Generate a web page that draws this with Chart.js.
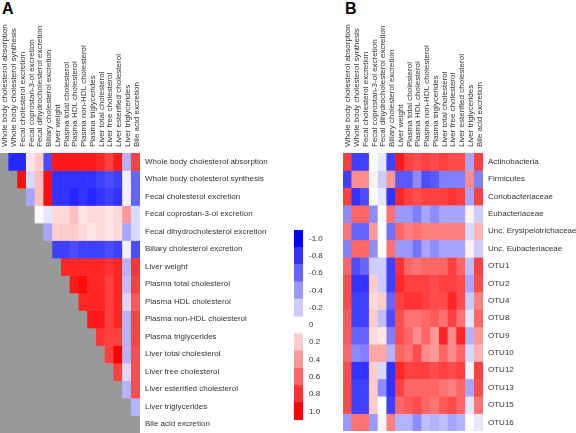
<!DOCTYPE html>
<html>
<head>
<meta charset="utf-8">
<script src="https://cdn.jsdelivr.net/npm/chart.js@4/dist/chart.umd.min.js"></script>
<style>
  body { margin: 0; background: #fff; overflow: hidden; }
  #wrap { position: relative; width: 576px; height: 433px; font-family: "Liberation Sans", Arial, sans-serif; }
  canvas { position: absolute; }
  .tag { position: absolute; font-weight: bold; font-size: 16px; color: #000; line-height: 16px; }
</style>
</head>
<body>
<div id="wrap">
  <div class="tag" style="left:2px;top:1px">A</div>
  <div class="tag" style="left:345px;top:1px">B</div>
  <canvas id="chartA" width="340" height="433" style="left:0;top:0"></canvas>
  <canvas id="chartB" width="233" height="431" style="left:343px;top:0"></canvas>
  <canvas id="legend" width="50" height="190" style="left:294px;top:230px"></canvas>
</div>
<script>
// host traits (columns of both panels, rows of panel A)
const traits = [
  "Whole body cholesterol absorption",
  "Whole body cholesterol synthesis",
  "Fecal cholesterol excretion",
  "Fecal coprostan-3-ol excretion",
  "Fecal dihydrocholesterol excretion",
  "Biliary cholesterol excretion",
  "Liver weight",
  "Plasma total cholesterol",
  "Plasma HDL cholesterol",
  "Plasma non-HDL cholesterol",
  "Plasma triglycerides",
  "Liver total cholesterol",
  "Liver free cholesterol",
  "Liver esterified cholesterol",
  "Liver triglycerides",
  "Bile acid excretion"
]

const taxa = [
  "Actinobacteria", "Firmicutes", "Coriobacteriaceae", "Eubacteriaceae",
  "Unc. Erysipelotrichaceae", "Unc. Eubacteriaceae",
  "OTU1", "OTU2", "OTU4", "OTU8", "OTU9", "OTU10", "OTU12", "OTU13", "OTU15", "OTU16"
]

const _ = null
// panel A: trait vs trait (upper triangle only)
const traitCorr = [
  [_, -0.85, -0.85, 0.1, 0.2, -0.7, 0.9, 0.9, 0.9, 0.9, 0.9, 0.85, 0.75, 0.9, -0.3, 0.75],
  [_, _, 0.95, -0.15, 0.25, 0.95, -0.8, -0.8, -0.8, -0.8, -0.8, -0.75, -0.7, -0.75, -0.05, -0.6],
  [_, _, _, -0.35, 0.25, 0.95, -0.8, -0.8, -0.85, -0.8, -0.85, -0.8, -0.75, -0.8, -0.05, -0.6],
  [_, _, _, _, 0.02, -0.1, 0.15, 0.15, 0.25, 0.1, 0.15, 0.15, 0.1, 0.15, 0.4, -0.15],
  [_, _, _, _, _, -0.35, 0.2, 0.2, 0.2, 0.15, 0.1, 0.15, 0.1, 0.15, -0.35, -0.15],
  [_, _, _, _, _, _, -0.75, -0.75, -0.7, -0.75, -0.75, -0.75, -0.7, -0.75, -0.05, -0.7],
  [_, _, _, _, _, _, _, 0.85, 0.85, 0.85, 0.85, 0.85, 0.8, 0.85, -0.3, 0.8],
  [_, _, _, _, _, _, _, _, 0.9, 0.95, 0.85, 0.85, 0.75, 0.85, -0.25, 0.75],
  [_, _, _, _, _, _, _, _, _, 0.85, 0.85, 0.85, 0.75, 0.85, -0.15, 0.65],
  [_, _, _, _, _, _, _, _, _, _, 0.9, 0.9, 0.75, 0.85, -0.3, 0.75],
  [_, _, _, _, _, _, _, _, _, _, _, 0.8, 0.75, 0.75, -0.3, 0.75],
  [_, _, _, _, _, _, _, _, _, _, _, _, 0.75, 1.0, -0.3, 0.7],
  [_, _, _, _, _, _, _, _, _, _, _, _, _, 0.75, -0.15, 0.7],
  [_, _, _, _, _, _, _, _, _, _, _, _, _, _, -0.3, 0.7],
  [_, _, _, _, _, _, _, _, _, _, _, _, _, _, _, -0.3],
  [_, _, _, _, _, _, _, _, _, _, _, _, _, _, _, _]
]

// panel B: taxon vs trait
const taxaCorr = [
  [0.75, -0.75, -0.75, 0.0, -0.1, -0.75, 0.9, 0.75, 0.7, 0.75, 0.7, 0.75, 0.7, 0.7, -0.35, 0.75],
  [-0.75, 0.45, 0.45, 0.05, -0.2, 0.4, -0.65, -0.65, -0.45, -0.7, -0.65, -0.5, -0.5, -0.5, 0.45, -0.5],
  [0.75, -0.8, -0.7, 0.0, -0.1, -0.8, 0.85, 0.75, 0.7, 0.75, 0.75, 0.75, 0.8, 0.75, -0.35, 0.75],
  [-0.45, 0.6, 0.6, -0.45, 0.0, 0.55, -0.4, -0.4, -0.5, -0.35, -0.45, -0.35, -0.35, -0.35, 0.05, -0.2],
  [0.55, -0.6, -0.6, 0.4, 0.0, -0.55, 0.6, 0.5, 0.55, 0.5, 0.5, 0.5, 0.5, 0.5, -0.15, 0.3],
  [-0.5, 0.6, 0.6, -0.45, 0.0, 0.55, -0.4, -0.4, -0.55, -0.35, -0.45, -0.35, -0.35, -0.35, 0.05, -0.2],
  [0.6, -0.7, -0.6, -0.2, -0.2, -0.75, 0.8, 0.6, 0.55, 0.6, 0.6, 0.6, 0.75, 0.6, -0.25, 0.75],
  [0.7, -0.8, -0.8, 0.2, -0.2, -0.75, 0.85, 0.75, 0.75, 0.75, 0.7, 0.75, 0.75, 0.7, -0.35, 0.7],
  [0.7, -0.75, -0.75, 0.15, 0.2, -0.6, 0.75, 0.8, 0.8, 0.75, 0.7, 0.7, 0.85, 0.7, -0.2, 0.5],
  [0.65, -0.75, -0.75, 0.2, -0.25, -0.7, 0.7, 0.55, 0.55, 0.6, 0.65, 0.55, 0.75, 0.55, -0.1, 0.6],
  [0.65, -0.6, -0.6, 0.15, 0.1, -0.5, 0.7, 0.6, 0.45, 0.6, 0.4, 0.85, 0.45, 0.85, -0.3, 0.4],
  [0.6, -0.45, -0.5, 0.35, 0.35, -0.3, 0.6, 0.55, 0.7, 0.45, 0.4, 0.6, 0.45, 0.6, -0.15, 0.3],
  [0.7, -0.8, -0.8, 0.2, -0.15, -0.8, 0.85, 0.75, 0.75, 0.75, 0.7, 0.75, 0.7, 0.75, -0.05, 0.75],
  [0.7, -0.75, -0.75, 0.2, -0.45, -0.8, 0.75, 0.6, 0.6, 0.6, 0.6, 0.55, 0.5, 0.6, -0.35, 0.7],
  [0.7, -0.75, -0.75, 0.2, 0.0, -0.75, 0.6, 0.65, 0.7, 0.6, 0.55, 0.65, 0.7, 0.6, -0.1, 0.55],
  [-0.4, 0.55, 0.55, -0.4, 0.05, 0.5, -0.3, -0.3, -0.45, -0.25, -0.3, -0.25, -0.35, -0.3, 0.02, -0.1]
]

// colour key
const keySteps = [-1.0, -0.8, -0.6, -0.4, -0.2, 0, 0.2, 0.4, 0.6, 0.8, 1.0]
const keyLabels = ["-1.0", "-0.8", "-0.6", "-0.4", "-0.2", "0", "0.2", "0.4", "0.6", "0.8", "1.0"]

const textColor = "#333333"
const font = { family: "'Liberation Sans', Arial, sans-serif", size: 8 }

function corrColor(v) {
  if (v === null) return "#999999"
  const t = Math.min(Math.abs(v), 1)
  const c = Math.round(255 * (1 - t))
  return v >= 0 ? `rgb(255,${c},${c})` : `rgb(${c},${c},255)`
}

function heatmap(canvas, rows, values, axisWidth) {
  const datasets = values.map((row, i) => ({
    data: traits.map(() => [i, i + 1]),
    backgroundColor: row.map(corrColor),
    borderWidth: 0,
    barPercentage: 1,
    categoryPercentage: 1,
    grouped: false
  }))

  return new Chart(canvas, {
    type: "bar",
    data: { labels: traits, datasets },
    options: {
      responsive: false,
      animation: false,
      events: [],
      layout: { padding: 0 },
      plugins: { legend: { display: false }, tooltip: { enabled: false } },
      scales: {
        x: {
          position: "top",
          grid: { display: false, drawTicks: false },
          border: { display: false },
          // rotated top labels sit left of the tick, nudge them back over the column
          ticks: { color: textColor, font, minRotation: 90, maxRotation: 90, padding: 6, labelOffset: 10.5, autoSkip: false },
          afterFit: (s) => { s.height = 153; s.paddingLeft = 0; s.paddingRight = 0 }
        },
        y: {
          position: "right",
          min: 0,
          max: rows.length,
          reverse: true,
          grid: { display: false, drawTicks: false },
          border: { display: false },
          ticks: { color: textColor, font, padding: 5, autoSkip: false, callback: (v, i) => rows[i] },
          afterBuildTicks: (s) => { s.ticks = rows.map((r, i) => ({ value: i + 0.5 })) },
          afterFit: (s) => { s.width = axisWidth; s.paddingTop = 0; s.paddingBottom = 0 }
        }
      }
    }
  })
}

heatmap(document.getElementById("chartA"), traits, traitCorr, 200)
heatmap(document.getElementById("chartB"), taxa, taxaCorr, 93)

new Chart(document.getElementById("legend"), {
  type: "bar",
  data: {
    labels: keyLabels,
    datasets: [{
      data: keySteps.map(v => v === 0 ? null : 1),
      backgroundColor: keySteps.map(corrColor),
      borderWidth: 0,
      barPercentage: 1,
      categoryPercentage: 1
    }]
  },
  options: {
    indexAxis: "y",
    responsive: false,
    animation: false,
    events: [],
    layout: { padding: 0 },
    plugins: { legend: { display: false }, tooltip: { enabled: false } },
    scales: {
      x: { display: false, min: 0, max: 1 },
      y: {
        position: "right",
        grid: { display: false, drawTicks: false },
        border: { display: false },
        ticks: { color: textColor, font, padding: 6 },
        afterFit: (s) => { s.width = 41; s.paddingTop = 0; s.paddingBottom = 0 }
      }
    }
  }
})
</script>
</body>
</html>
